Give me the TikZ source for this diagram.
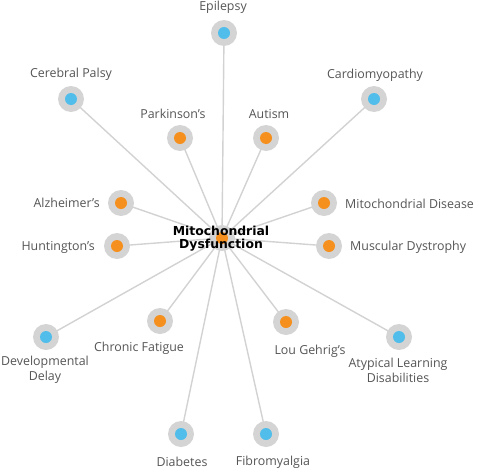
\documentclass[tikz,border=0pt]{standalone}
\usepackage{fontspec}
\setmainfont{Open Sans}
\newfontfamily\boldfont{DejaVu Sans}
\definecolor{ringgray}{HTML}{D4D4D4}
\definecolor{linegray}{HTML}{D2D2D2}
\definecolor{dotblue}{HTML}{50BDEB}
\definecolor{dotorange}{HTML}{F5901E}
\definecolor{labelgray}{HTML}{555555}
\begin{document}
\begin{tikzpicture}[x=1pt,y=-1pt,
  ring/.style={circle,fill=ringgray,minimum size=26pt,inner sep=0pt},
  bluedot/.style={circle,fill=dotblue,minimum size=12pt,inner sep=0pt},
  orangedot/.style={circle,fill=dotorange,minimum size=12pt,inner sep=0pt},
  lbl/.style={text=labelgray,font=\fontsize{12.4}{15}\selectfont,inner sep=0pt,align=center},
  link/.style={draw=linegray,line width=1.4pt}]
\useasboundingbox (0,0) rectangle (479,474);
% coordinates of the nodes
\coordinate (c) at (222,238);
\coordinate (ep) at (224,33);
\coordinate (cp) at (71,99);
\coordinate (cm) at (374,99);
\coordinate (pk) at (180,138);
\coordinate (au) at (266,138);
\coordinate (az) at (121,203);
\coordinate (md) at (324,203);
\coordinate (ht) at (117,246);
\coordinate (mu) at (329,246);
\coordinate (dd) at (46,337);
\coordinate (cf) at (160,321);
\coordinate (lg) at (286,322);
\coordinate (al) at (399,337);
\coordinate (db) at (181,434);
\coordinate (fb) at (266,434);
% connectors
\foreach \n in {ep,cp,cm,pk,au,az,md,ht,mu,dd,cf,lg,al,db,fb}
  \draw[link] (c) -- (\n);
% rings and dots
\foreach \n in {c,ep,cp,cm,pk,au,az,md,ht,mu,dd,cf,lg,al,db,fb}
  \node[ring] (r\n) at (\n) {};
\foreach \n in {ep,cp,cm,dd,al,db,fb}
  \node[bluedot] (d\n) at (\n) {};
\foreach \n in {c,pk,au,az,md,ht,mu,cf,lg}
  \node[orangedot] (d\n) at (\n) {};
% labels
\node[lbl] (tep) at (223,7) {Epilepsy};
\node[lbl] (tcp) at (71,74) {Cerebral Palsy};
\node[lbl] (tcm) at (375,75) {Cardiomyopathy};
\node[lbl] (tpk) at (173,114) {Parkinson’s};
\node[lbl] (tau) at (269,114) {Autism};
\node[lbl,anchor=east] (taz) at (100,203) {Alzheimer’s};
\node[lbl,anchor=west] (tmd) at (345,204) {Mitochondrial Disease};
\node[lbl,anchor=east] (tht) at (95,247) {Huntington’s};
\node[lbl,anchor=west] (tmu) at (350,247) {Muscular Dystrophy};
\node[lbl] (tdd) at (45,370) {Developmental\\Delay};
\node[lbl] (tcf) at (139,348) {Chronic Fatigue};
\node[lbl] (tlg) at (310,351) {Lou Gehrig’s};
\node[lbl] (tal) at (398,370) {Atypical Learning\\Disabilities};
\node[lbl] (tdb) at (182,462) {Diabetes};
\node[lbl] (tfb) at (273,462) {Fibromyalgia};
\node[font=\boldfont\bfseries\fontsize{12.4}{13}\selectfont,align=center,inner sep=0pt,text=black] (tc) at (221,238.5) {Mitochondrial\\Dysfunction};
\end{tikzpicture}
\end{document}
